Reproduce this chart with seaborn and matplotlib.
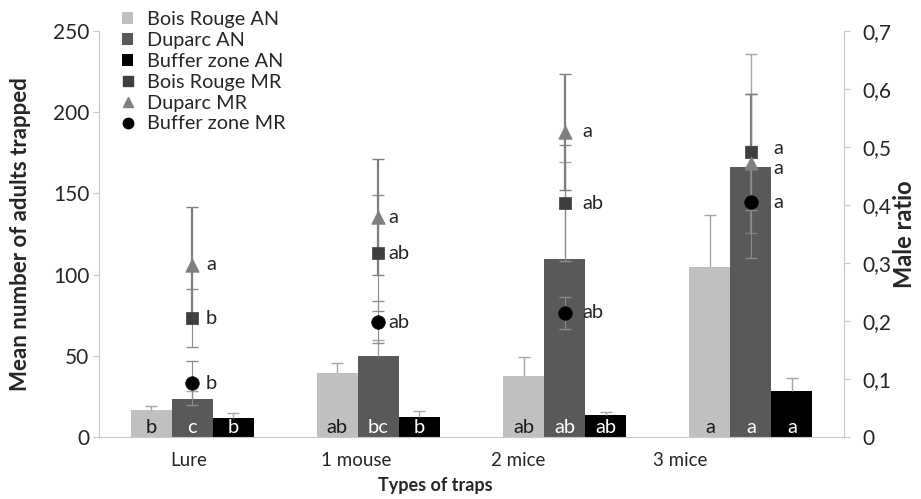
import numpy as np
import pandas as pd
import matplotlib
matplotlib.use("Agg")
import matplotlib.pyplot as plt
from matplotlib.patches import Patch
from matplotlib.lines import Line2D
import seaborn as sns

sns.set_style("white")
plt.rcParams['font.family'] = ['Lato', 'DejaVu Sans']
plt.rcParams['font.size'] = 12

# data
traps = ["Lure", "1 mouse", "2 mice", "3 mice"]
sites_an = ["Bois Rouge AN", "Duparc AN", "Buffer zone AN"]
sites_mr = ["Bois Rouge MR", "Duparc MR", "Buffer zone MR"]

bois_an = [16.6, 39.4, 37.6, 104.7]
bois_an_err = [2.5, 6, 11.5, 32]
duparc_an = [23.4, 50, 109.6, 166]
duparc_an_err = [5, 10, 60, 70]
buffer_an = [11.7, 12.3, 13.5, 28.3]
buffer_an_err = [3, 4, 2, 8]
an_letters = [["b", "ab", "ab", "a"], ["c", "bc", "ab", "a"], ["b", "b", "ab", "a"]]

bois_mr = [0.205, 0.317, 0.403, 0.491]
bois_mr_err = [0.05, 0.1, 0.1, 0.1]
duparc_mr = [0.297, 0.379, 0.526, 0.472]
duparc_mr_err = [0.1, 0.1, 0.1, 0.12]
buffer_mr = [0.093, 0.198, 0.214, 0.405]
buffer_mr_err = [0.038, 0.036, 0.028, 0.096]
mr_letters = [["b", "ab", "ab", "a"], ["a", "a", "a", "a"], ["b", "ab", "ab", "a"]]

an_colors = ["#c0c0c0", "#595959", "#000000"]
mr_colors = ["#3f3f3f", "#7f7f7f", "#000000"]
mr_markers = ["s", "^", "o"]

df = pd.DataFrame({
    "trap": traps * 3,
    "site": np.repeat(sites_an, len(traps)),
    "count": bois_an + duparc_an + buffer_an,
})

fig = plt.figure(figsize=(9.21, 4.99), dpi=100)
ax = fig.add_axes([0.1075, 0.124, 0.809, 0.814])
sns.barplot(data=df, x="trap", y="count", hue="site", order=traps, hue_order=sites_an,
            palette=an_colors, saturation=1, width=0.66, errorbar=None, legend=False,
            linewidth=0, edgecolor="none", ax=ax)

an_errs = [bois_an_err, duparc_an_err, buffer_an_err]
text_cols = ["#1a1a1a", "white", "white"]
bar_conts = list(ax.containers)[:3]
for k, cont in enumerate(bar_conts):
    xs = [b.get_x() + b.get_width() / 2 for b in cont.patches]
    hs = [b.get_height() for b in cont.patches]
    eb = ax.errorbar(xs, hs, yerr=[np.zeros(len(hs)), an_errs[k]], fmt="none",
                     ecolor="#a6a6a6", elinewidth=1, capsize=4, capthick=1, zorder=3)
    eb[1][0].set_visible(False)  # plus-only error bars, cap on top only
    for x, lab in zip(xs, an_letters[k]):
        ax.annotate(lab, (x, 0), xytext=(0, 1), textcoords="offset points",
                    ha="center", va="bottom", color=text_cols[k], fontsize=14.5)

ax.set_ylim(0, 250)
ax.set_xlim(-0.5, len(traps) - 0.5)
ax.set_yticks(np.arange(0, 251, 50))
ax.set_xticks([-0.02, 0.88, 1.75, 2.62])
ax.set_xticklabels(traps)
ax.set_xticks(np.arange(-0.5, len(traps) - 0.4, 1.0), minor=True)
ax.tick_params(axis="x", which="major", length=0, pad=11, labelsize=13.5)
ax.tick_params(axis="x", which="minor", length=4, color="#c8c8c8", direction="in")
ax.tick_params(axis="y", length=4, color="#c8c8c8", left=True, labelsize=15, pad=3)
ax.set_xlabel("Types of traps", fontweight="bold", fontsize=13)
ax.xaxis.set_label_coords(0.452, -0.098)
ax.set_ylabel("Mean number of adults trapped", fontweight="bold", fontsize=16)
ax.yaxis.set_label_coords(-0.091, 0.5)
for s in ["top", "right"]:
    ax.spines[s].set_visible(False)
for s in ["left", "bottom"]:
    ax.spines[s].set_color("#c8c8c8")

# male ratio on the secondary axis
ax2 = ax.twinx()
pos = np.arange(len(traps))
mr_vals = [bois_mr, duparc_mr, buffer_mr]
mr_errs = [bois_mr_err, duparc_mr_err, buffer_mr_err]
mr_lw = [0.8, 1.6, 0.8]
mr_ecol = ["#8c8c8c", "#7f7f7f", "#8c8c8c"]
for k in range(3):
    ax2.errorbar(pos, mr_vals[k], yerr=mr_errs[k], fmt="none", ecolor=mr_ecol[k],
                 elinewidth=mr_lw[k], capsize=4, capthick=1)
mdf = pd.DataFrame({
    "x": np.tile(pos, 3),
    "ratio": bois_mr + duparc_mr + buffer_mr,
    "site": np.repeat(sites_mr, len(traps)),
})
for k, site in enumerate(sites_mr):
    sub = mdf[mdf.site == site]
    sns.scatterplot(data=sub, x="x", y="ratio", marker=mr_markers[k], color=mr_colors[k],
                    s=95 if mr_markers[k] != "s" else 70, edgecolor=mr_colors[k],
                    linewidth=0.5, ax=ax2, zorder=5)
lab_off = [10, 7, 13, 16]
lab_dy = [[0, 0, 0, 3], [0, 0, 0, -4], [0, 0, 0, 0]]
for k in range(3):
    for i, lab in enumerate(mr_letters[k]):
        ax2.annotate(lab, (pos[i], mr_vals[k][i]), xytext=(lab_off[i], lab_dy[k][i]),
                     textcoords="offset points", ha="left", va="center", fontsize=14.5)

ax2.set_ylim(0, 0.7)
ax2.set_yticks(np.arange(0, 0.71, 0.1))
ax2.set_yticklabels(["0"] + [f"0,{i}" for i in range(1, 8)])
ax2.tick_params(axis="y", length=4, color="#c8c8c8", right=True, labelsize=15, pad=9)
ax2.set_xlabel("")
ax2.set_ylabel("Male ratio", fontweight="bold", fontsize=17)
ax2.yaxis.set_label_position("right")
ax2.yaxis.set_label_coords(1.066, 0.5)
for s in ["top", "left", "bottom"]:
    ax2.spines[s].set_visible(False)
ax2.spines["right"].set_color("#c8c8c8")

handles = [Patch(facecolor=c, edgecolor="none") for c in an_colors]
handles += [Line2D([], [], linestyle="none", marker=m, color=c, markersize=7.5)
            for m, c in zip(mr_markers, mr_colors)]
ax.legend(handles, sites_an + sites_mr, loc="upper left", bbox_to_anchor=(0.031, 1.05),
          frameon=False, fontsize=14.3, handlelength=0.55, handleheight=0.55,
          handletextpad=0.7, labelspacing=0.2, borderaxespad=0, borderpad=0)

fig.savefig("out.png", dpi=100)
